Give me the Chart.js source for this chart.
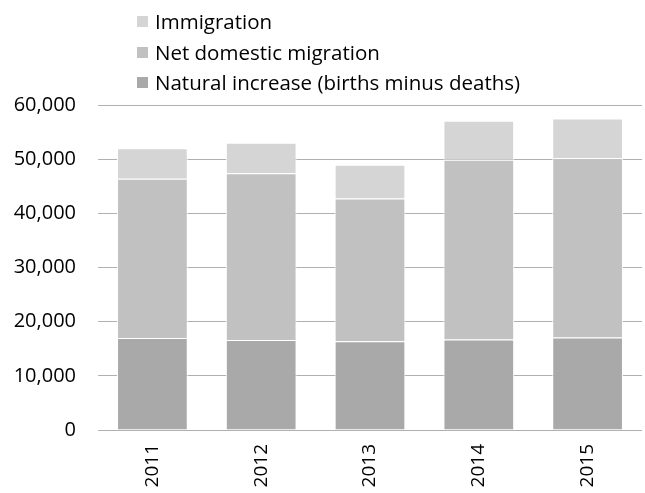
<!DOCTYPE html>
<html>
<head>
<meta charset="utf-8">
<script src="https://cdn.jsdelivr.net/npm/chart.js@4"></script>
<style>
  html, body { margin: 0; padding: 0; background: #fff; }
  #wrap { position: relative; width: 645px; height: 493px; }
  #legend { position: absolute; left: 137px; top: 6px; font-family: "Open Sans", sans-serif; font-size: 20.5px; color: #000; }
  #legend div { height: 30.5px; line-height: 30.5px; white-space: nowrap; }
  #legend span { display: inline-block; width: 11px; height: 11px; margin-right: 7px; vertical-align: middle; position: relative; top: -2px; }
</style>
</head>
<body>
<div id="wrap">
  <canvas id="chart" width="645" height="493"></canvas>
  <div id="legend"></div>
</div>
<script>
// Data
const years = ['2011', '2012', '2013', '2014', '2015'];
const naturalIncrease = [17000, 16600, 16400, 16700, 17100];
const netDomestic = [29400, 30800, 26350, 33200, 33100];
const immigration = [5600, 5650, 6200, 7200, 7300];
const yTicks = [0, 10000, 20000, 30000, 40000, 50000, 60000];

const fontFamily = '"Open Sans", sans-serif';

const datasets = [
    { label: 'Natural increase (births minus deaths)', data: naturalIncrease, backgroundColor: '#a9a9a9' },
    { label: 'Net domestic migration', data: netDomestic, backgroundColor: '#c1c1c1' },
    { label: 'Immigration', data: immigration, backgroundColor: '#d5d5d5' }
];

const ctx = document.getElementById('chart').getContext('2d');
const chart = new Chart(ctx, {
    type: 'bar',
    data: {
        labels: years,
        datasets: datasets.map(d => ({
            ...d,
            borderColor: '#ffffff',
            borderWidth: 1,
            categoryPercentage: 1,
            barPercentage: 0.65
        }))
    },
    options: {
        responsive: false,
        animation: false,
        layout: { padding: { top: 105, left: 10, right: 3, bottom: 3 } },
        plugins: {
            legend: { display: false },
            tooltip: { enabled: false }
        },
        scales: {
            x: {
                stacked: true,
                grid: { display: false },
                border: { display: false },
                afterFit: scale => { scale.height = 60; },
                ticks: {
                    color: '#000',
                    font: { family: fontFamily, size: 19 },
                    minRotation: 90,
                    maxRotation: 90,
                    padding: 6
                }
            },
            y: {
                stacked: true,
                min: 0,
                max: 60000,
                afterBuildTicks: axis => { axis.ticks = yTicks.map(v => ({ value: v })); },
                afterFit: scale => { scale.width = 88; },
                grid: { color: '#b0b0b0', lineWidth: 1, drawTicks: false },
                border: { display: false },
                ticks: {
                    color: '#000',
                    font: { family: fontFamily, size: 20 },
                    padding: 22,
                    callback: v => v.toLocaleString('en-US')
                }
            }
        }
    }
});

// Legend, top item first as in the picture
const legendEl = document.getElementById('legend');
datasets.slice().reverse().forEach(d => {
    const row = document.createElement('div');
    const box = document.createElement('span');
    box.style.background = d.backgroundColor;
    row.appendChild(box);
    row.appendChild(document.createTextNode(d.label));
    legendEl.appendChild(row);
});
</script>
</body>
</html>
